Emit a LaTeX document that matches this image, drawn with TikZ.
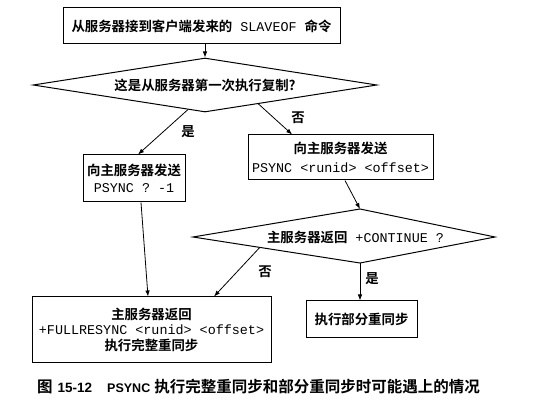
\documentclass[tikz,border=0pt]{standalone}
\usepackage{fontspec}
\setmainfont{Noto Sans CJK SC}[BoldFont=* Bold]
\setmonofont{Liberation Mono}
\newfontfamily\capsans{Liberation Sans}
\usepackage{tikz}
\usetikzlibrary{arrows.meta}
\usetikzlibrary{shapes.geometric}
\usetikzlibrary{calc}
\newcommand{\mono}[1]{{\mdseries\ttfamily #1}}
\tikzstyle{block} = [draw, line width=1pt, align=center, inner sep=0pt, font=\fontsize{13.4}{17}\selectfont\bfseries]
\tikzstyle{decision} = [draw, diamond, aspect=6.4, line width=1pt, inner sep=0pt, font=\fontsize{13.4}{17}\selectfont\bfseries]
\tikzstyle{arrow} = [line width=0.8pt, -{Latex[length=6pt, width=4.5pt]}]
\tikzstyle{lbl} = [inner sep=0pt, font=\fontsize{13.4}{17}\selectfont\bfseries]

\begin{document}
\begin{tikzpicture}[x=1pt, y=-1pt]
	\useasboundingbox (0,0) rectangle (547,409);
	\node[block, minimum width=277pt, minimum height=36pt](cmd) at (201.5,26){从服务器接到客户端发来的\mono{ SLAVEOF }命令};
	\node[decision, minimum width=344pt, minimum height=54pt](q1) at (205,85){这是从服务器第一次执行复制?};
	\node[block, minimum width=102pt, minimum height=47pt](old) at (134,178.5){向主服务器发送\\\mono{PSYNC ? -1}};
	\node[block, minimum width=185pt, minimum height=45pt](new) at (340.5,157.5){向主服务器发送\\[2pt]\mono{PSYNC <runid> <offset>}};

	\node[lbl](q2) at (355.5,237){主服务器返回\mono{ +CONTINUE ?}};
	\coordinate(q2n) at (360,209);
	\coordinate(q2e) at (495,237);
	\coordinate(q2s) at (360,263);
	\coordinate(q2w) at (193,237);
	\draw[line width=1pt](q2n) -- (q2e) -- (q2s) -- (q2w) -- cycle;

	\node[block, minimum width=239pt, minimum height=65pt, font=\fontsize{13.4}{15.5}\selectfont\bfseries](full) at (151.5,329.5){主服务器返回\\\mono{+FULLRESYNC <runid> <offset>}\\执行完整重同步};
	\node[block, minimum width=111pt, minimum height=36pt](part) at (361.5,319){执行部分重同步};

	\draw[arrow](q1.north |- cmd.south) -- (q1.north);
	\draw[arrow]($(q1.south)!0.1!(q1.west)$) -- ([xshift=4pt]old.north);
	\draw[arrow]($(q1.south)!0.31!(q1.east)$) -- ($(new.north west)!0.24!(new.north east)$);
	\draw[arrow]([xshift=4.5pt]new.south) -- (q2n);
	\draw[arrow]([xshift=7pt]old.south) -- ([xshift=-3.5pt]full.north);
	\draw[arrow]($(q2s)!0.6!(q2w)$) -- ([xshift=62.5pt]full.north);
	\draw[arrow](q2s) -- (q2s |- part.north);

	\node[lbl](yes1) at (188,132){是};
	\node[lbl](no1) at (298,118){否};
	\node[lbl](no2) at (265,272){否};
	\node[lbl](yes2) at (372,279){是};

	\node[anchor=west, inner sep=0pt, font=\fontsize{15.5}{18}\selectfont\bfseries](cap) at (37,387){图\hspace{5pt}{\capsans\fontsize{13.5}{15}\selectfont 15-12}\hspace{15pt}{\capsans\fontsize{12.5}{15}\selectfont PSYNC}\hspace{4pt}执行完整重同步和部分重同步时可能遇上的情况};
\end{tikzpicture}
\end{document}
